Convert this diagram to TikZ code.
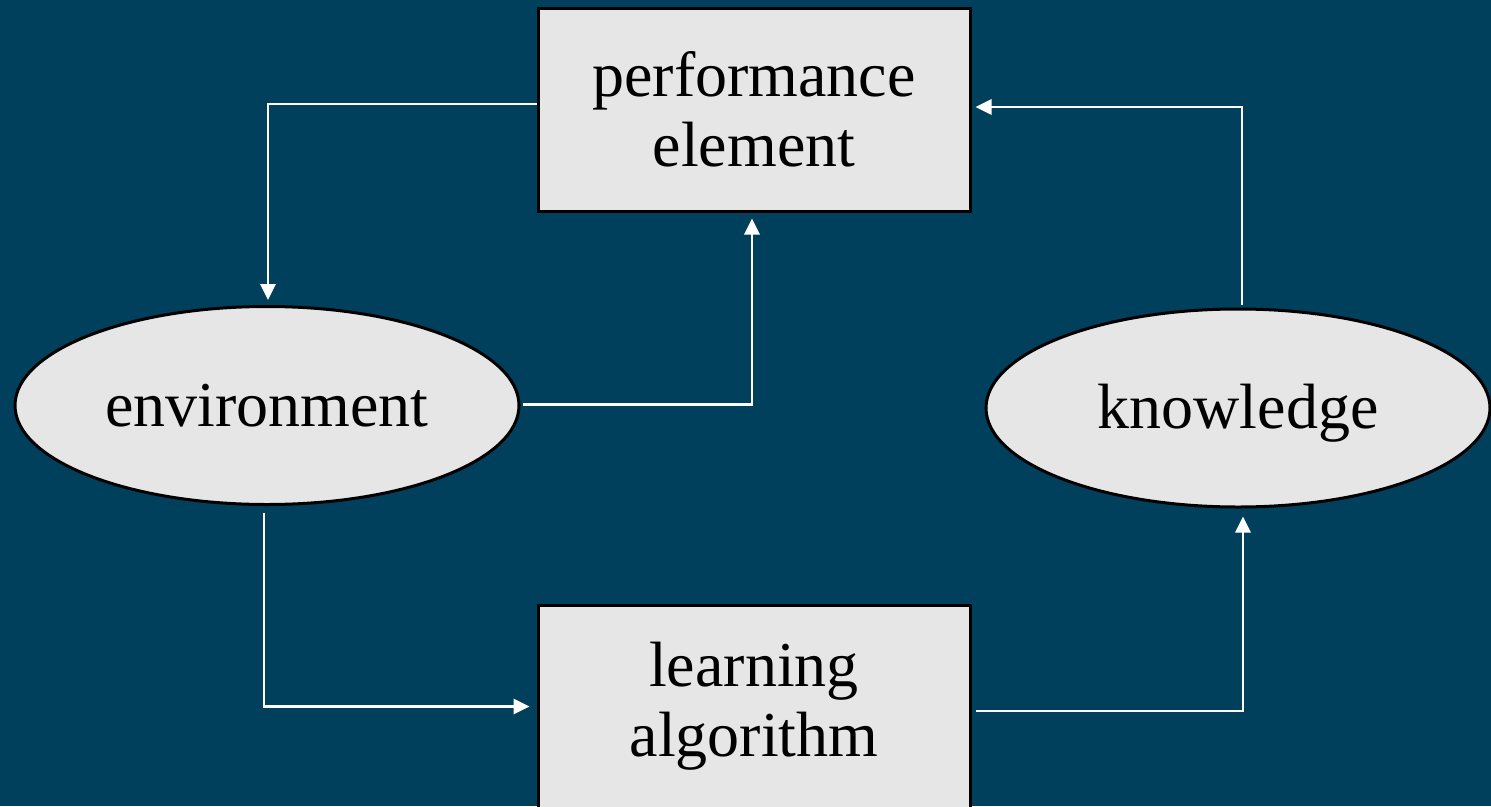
\documentclass[tikz,border=0pt]{standalone}
\usepackage{fontspec}
\setmainfont{Liberation Serif}
\usetikzlibrary{shapes.geometric,arrows.meta}
\definecolor{bgblue}{RGB}{0,64,92}
\definecolor{boxgray}{RGB}{230,230,230}
\begin{document}
\begin{tikzpicture}[x=1pt,y=-1pt,
  box/.style={draw=black,line width=3pt,fill=boxgray,rectangle,minimum width=432pt,minimum height=203pt,inner sep=0pt,align=center,font=\fontsize{64}{70}\selectfont},
  oval/.style={draw=black,line width=3pt,fill=boxgray,ellipse,minimum width=504pt,minimum height=198pt,inner sep=0pt,font=\fontsize{64}{70}\selectfont},
  conn/.style={draw=white,line width=2.8pt,-{Triangle[length=16pt,width=15pt]}}]
\fill[bgblue] (0,0) rectangle (1491,806);
\useasboundingbox (0,0) rectangle (1491,806);
\node[box] (pe) at (754,109.5) {performance\\element};
\node[box] (la) at (754,706.5) {learning\\algorithm};
\node[oval] (env) at (267,405.5) {environment};
\node[oval] (kn) at (1238,408) {\raisebox{-5pt}[\height][\depth]{knowledge}};
\draw[conn,shorten >=5pt] ([yshift=5.5pt]pe.west) -| ([xshift=1pt]env.north);
\draw[conn,shorten >=6pt] ([xshift=2pt,yshift=1pt]env.east) -| ([xshift=-2pt]pe.south);
\draw[conn,shorten >=4pt] ([xshift=4pt,yshift=3pt]kn.north) |- ([yshift=2.5pt]pe.east);
\draw[conn,shorten >=7pt] ([xshift=-3pt,yshift=-7pt]env.south) |- (la.west);
\draw[conn,shorten >=8pt] ([xshift=4pt,yshift=-4.5pt]la.east) -| ([xshift=5pt]kn.south);
\end{tikzpicture}
\end{document}
